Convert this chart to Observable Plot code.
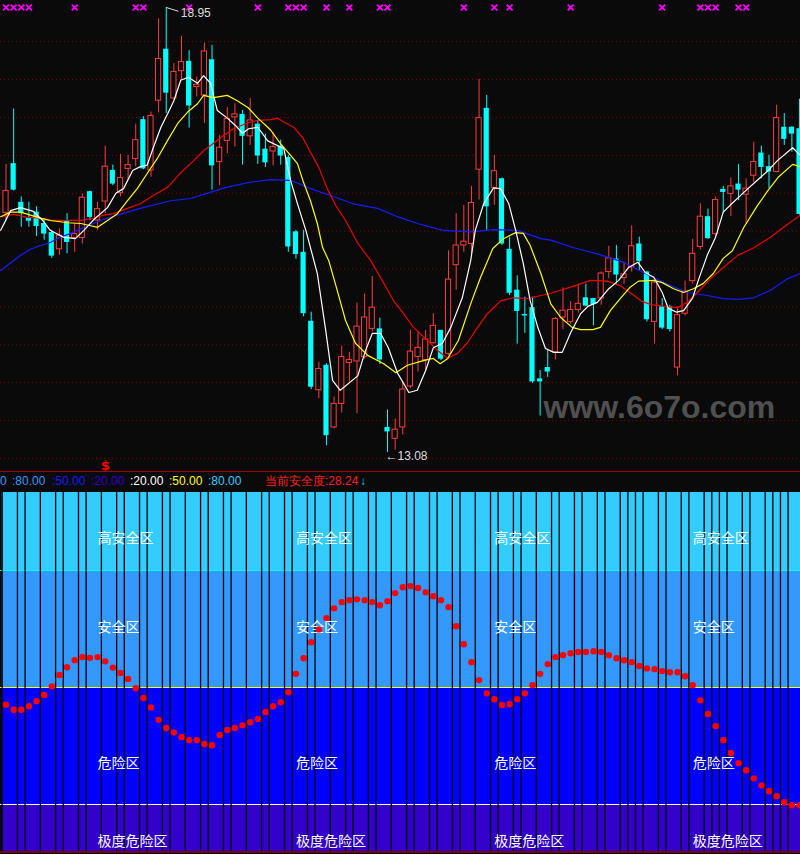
<!DOCTYPE html>
<html><head><meta charset="utf-8">
<script src="https://cdn.jsdelivr.net/npm/d3@7"></script>
<script src="https://cdn.jsdelivr.net/npm/@observablehq/plot@0.6"></script>
<style>
html,body{margin:0;padding:0;background:#0a0a0a;}
#wrap{width:800px;height:854px;position:relative;overflow:hidden;background:#0a0a0a;}
#info{position:relative;height:18px;border-top:1px solid #a00000;font:12px "Liberation Sans",Arial,sans-serif;line-height:14px;}
#info span{position:absolute;top:2px;white-space:nowrap;}
svg{display:block;}
</style></head><body>
<div id="wrap"><div id="topc"></div><div id="info"></div><div id="botc"></div><div style="height:2px;background:#7a0000"></div></div>
<script>
// ---- candle data (index 0..104) ----
const open  = [16.24,16.89,16.38,16.17,16.25,16.10,15.98,15.76,16.14,15.91,15.91,16.52,16.14,16.39,16.80,16.50,16.82,16.95,17.47,16.80,17.72,18.40,17.75,18.11,18.24,17.90,17.79,18.26,16.91,17.19,17.50,17.54,17.25,17.41,17.08,17.05,17.12,16.97,15.99,15.72,14.81,13.90,14.23,13.41,13.72,14.26,14.28,14.34,14.71,14.71,13.41,13.26,13.41,13.95,14.34,14.30,14.52,14.69,14.38,15.55,15.81,15.83,16.81,17.62,16.57,16.69,15.76,15.22,14.90,14.99,14.05,14.20,14.40,14.86,14.80,14.96,15.12,15.11,15.11,15.46,15.63,15.38,15.52,15.83,15.46,14.80,15.00,15.00,14.20,14.91,15.34,15.79,16.19,15.96,16.55,16.49,16.62,16.48,16.73,17.03,16.85,16.78,17.37,17.37,17.35];
const high  = [16.88,17.61,16.45,16.38,16.32,16.16,16.01,16.03,16.23,16.10,16.49,16.53,16.38,17.12,16.87,17.01,17.00,17.41,17.51,17.57,18.80,18.95,18.21,18.57,18.38,18.03,18.48,18.45,17.26,17.63,17.68,17.59,17.75,17.46,17.28,17.30,17.20,17.00,16.01,16.01,14.93,14.27,14.25,13.81,14.48,14.40,15.05,15.17,15.40,14.85,13.64,13.52,14.01,14.69,14.67,14.69,14.91,14.69,15.74,16.23,16.34,16.59,18.00,17.79,17.00,16.70,15.92,15.41,15.13,15.13,14.16,14.44,14.86,15.25,15.07,15.30,15.30,15.11,15.46,15.80,15.81,15.59,16.07,15.92,15.47,15.33,15.11,15.02,15.00,15.34,15.89,16.36,16.29,16.45,16.59,16.70,16.88,16.69,17.17,17.12,17.00,17.66,17.55,17.38,17.74];
const low   = [16.13,16.53,16.05,16.05,15.93,15.88,15.64,15.68,15.70,15.72,15.83,16.14,16.01,16.23,16.60,16.45,16.67,16.85,16.81,16.71,17.56,17.55,17.72,17.99,17.36,17.77,17.42,16.54,16.60,17.02,17.11,16.87,17.13,16.88,16.84,16.86,16.87,15.72,15.63,14.87,13.91,13.79,13.17,13.39,13.60,14.01,13.59,14.31,14.67,14.24,13.08,13.11,13.31,13.92,14.14,14.16,14.51,14.29,14.36,15.22,15.72,15.70,16.41,16.01,16.34,15.81,15.15,14.51,14.65,13.99,13.56,14.07,14.30,14.70,14.77,14.92,15.00,14.75,15.02,15.37,15.30,15.30,15.46,15.48,14.80,14.51,14.70,14.67,14.09,14.88,15.30,15.75,15.89,15.92,16.24,16.19,16.40,16.10,16.64,16.69,16.56,16.77,17.13,17.04,16.21];
const close = [16.53,16.54,16.23,16.13,16.06,15.96,15.67,15.94,15.85,15.96,16.44,16.18,16.29,16.85,16.62,16.70,16.87,17.20,16.82,17.52,18.27,17.82,18.10,18.23,17.65,17.93,18.37,16.86,17.10,17.48,17.54,17.25,17.46,16.99,16.90,17.11,16.99,15.79,15.69,14.91,13.94,14.18,13.30,13.72,14.34,14.30,14.74,14.86,14.99,14.30,13.35,13.38,13.91,14.41,14.46,14.57,14.75,14.31,15.36,15.81,15.86,16.37,17.49,16.32,16.79,15.83,15.18,14.94,14.88,14.01,14.01,14.14,14.84,14.95,14.96,15.04,15.01,15.03,15.44,15.64,15.42,15.43,15.80,15.60,14.83,15.32,14.72,14.70,14.89,15.20,15.70,16.19,15.90,16.41,16.51,16.59,16.54,16.56,16.91,16.84,16.78,17.49,17.21,17.28,16.22];

// ---- moving averages: [candle index, price] ----
const ma5 = [[-0.7,16.01],[0.6,16.27],[1.9,16.31],[3.6,16.26],[4.8,16.14],[5.8,16.01],[7.5,15.92],[9.1,15.90],[10.2,16.01],[11.7,16.17],[13.3,16.31],[14.4,16.50],[15.4,16.56],[16.6,16.80],[17.6,16.85],[18.5,16.87],[19.3,17.10],[20.3,17.37],[21.2,17.55],[22.0,17.72],[22.9,17.99],[23.9,18.03],[25.1,17.95],[25.9,18.05],[26.8,17.95],[27.7,17.59],[29.0,17.49],[30.1,17.39],[31.0,17.29],[31.8,17.35],[33.0,17.37],[34.3,17.19],[36.4,17.09],[37.3,16.67],[38.2,16.36],[39.3,16.01],[40.8,15.44],[41.9,14.69],[42.8,14.03],[43.8,13.90],[46.1,14.09],[47.1,14.42],[48.0,14.65],[49.1,14.65],[50.1,14.46],[51.3,14.13],[52.8,13.87],[53.9,13.90],[55.0,14.16],[56.0,14.46],[57.2,14.52],[58.3,14.73],[59.8,15.12],[60.9,15.61],[61.5,16.01],[62.6,16.36],[63.9,16.57],[64.8,16.56],[65.9,16.36],[66.8,16.01],[67.8,15.57],[68.7,15.08],[69.7,14.73],[70.7,14.45],[71.8,14.40],[72.9,14.40],[74.0,14.66],[75.3,14.91],[76.3,15.01],[77.5,15.06],[79.0,15.24],[80.3,15.35],[81.6,15.52],[82.8,15.59],[83.8,15.45],[84.9,15.39],[86.0,15.19],[86.8,14.98],[87.9,14.93],[88.8,14.95],[90.0,15.12],[90.8,15.37],[91.9,15.68],[93.0,15.92],[94.0,16.25],[94.9,16.34],[96.7,16.51],[98.9,16.71],[99.9,16.80],[101.1,16.93],[103.1,17.10],[104.1,17.00]];
const ma10 = [[-0.7,16.19],[0.6,16.25],[1.9,16.25],[3.2,16.21],[4.5,16.17],[5.8,16.14],[8.1,16.11],[9.8,16.10],[11.1,16.07],[12.0,16.05],[13.3,16.14],[14.6,16.23],[15.9,16.40],[17.2,16.56],[18.5,16.76],[19.9,16.97],[21.2,17.20],[22.5,17.42],[23.8,17.57],[25.1,17.68],[25.9,17.79],[27.2,17.76],[29.0,17.79],[30.3,17.72],[31.7,17.63],[33.0,17.49],[34.3,17.37],[34.7,17.33],[36.0,17.15],[37.3,17.00],[38.2,16.89],[39.0,16.64],[39.9,16.40],[40.8,16.10],[41.5,15.78],[42.3,15.61],[43.4,15.22],[44.5,14.82],[45.8,14.52],[47.4,14.36],[49.5,14.25],[51.1,14.13],[52.6,14.23],[54.7,14.29],[56.0,14.32],[56.9,14.25],[57.9,14.32],[59.3,14.56],[60.9,15.04],[62.2,15.39],[63.8,15.77],[65.2,15.90],[66.8,15.98],[67.8,15.97],[68.7,15.81],[70.1,15.44],[71.4,15.04],[72.7,14.86],[74.2,14.73],[75.3,14.70],[76.9,14.70],[77.9,14.73],[79.2,14.95],[80.5,15.11],[81.8,15.26],[82.9,15.34],[84.9,15.35],[86.0,15.32],[87.5,15.24],[88.8,15.19],[90.1,15.24],[91.4,15.31],[92.7,15.44],[94.0,15.64],[95.2,15.74],[96.7,16.05],[98.5,16.34],[99.9,16.54],[101.2,16.71],[103.1,16.88],[104.1,16.85]];
const ma20 = [[-0.7,16.19],[1.0,16.22],[2.8,16.18],[4.5,16.17],[6.2,16.14],[8.1,16.14],[9.8,16.14],[11.5,16.17],[12.8,16.21],[14.1,16.23],[15.9,16.30],[17.6,16.36],[19.3,16.47],[21.2,16.58],[22.9,16.77],[24.6,16.93],[25.9,17.06],[27.2,17.16],[28.5,17.26],[29.8,17.35],[31.7,17.43],[33.0,17.46],[34.7,17.47],[35.6,17.49],[36.6,17.43],[37.7,17.37],[38.9,17.23],[39.9,17.04],[41.0,16.84],[42.1,16.56],[43.2,16.34],[44.5,16.14],[46.1,15.84],[47.8,15.61],[49.3,15.35],[50.8,15.08],[52.1,14.91],[53.4,14.73],[55.2,14.56],[56.6,14.42],[57.9,14.32],[59.2,14.39],[60.5,14.53],[61.8,14.73],[63.1,14.91],[64.8,15.08],[66.5,15.12],[68.3,15.11],[70.1,15.15],[71.4,15.18],[74.0,15.26],[76.6,15.35],[78.8,15.34],[80.5,15.28],[81.8,15.19],[83.2,15.08],[84.5,15.03],[86.2,15.01],[88.0,14.99],[89.3,15.06],[90.6,15.19],[92.3,15.37],[94.0,15.52],[95.9,15.68],[98.0,15.78],[100.2,15.92],[101.9,16.05],[104.1,16.21]];
const ma60 = [[-0.7,15.48],[1.9,15.68],[3.2,15.76],[4.5,15.81],[5.8,15.85],[7.1,15.92],[8.5,15.97],[10.2,16.05],[12.4,16.14],[14.6,16.21],[17.6,16.30],[21.6,16.40],[24.2,16.43],[26.4,16.50],[29.0,16.58],[31.7,16.64],[34.7,16.68],[37.3,16.67],[39.9,16.56],[42.5,16.47],[45.5,16.36],[48.7,16.30],[51.3,16.19],[53.9,16.10],[57.3,16.01],[60.9,15.99],[63.9,16.02],[67.0,16.01],[70.1,15.90],[71.4,15.88],[74.4,15.78],[77.5,15.70],[80.9,15.59],[83.6,15.45],[85.4,15.36],[87.1,15.28],[89.3,15.19],[91.9,15.15],[94.0,15.11],[95.9,15.10],[98.0,15.12],[100.2,15.22],[102.4,15.37],[104.1,15.44]];

// magenta signal marks (candle indices)
const marks = [0,1,2,3,9,17,18,24,33,37,38,39,42,45,49,50,60,64,66,74,86,91,92,93,96,97];
const dollarAt = [13];
const gridPrices = [18.5,18.0,17.5,17.0,16.5,16.0,15.5,15.0,14.5,14.0,13.5,13.0];

// ---- safety indicator (lower panel) ----
const safety = [45.6,44.3,44.3,45.2,46.5,48.1,50.3,53.2,55.2,57.0,57.8,57.6,57.8,56.7,55.1,53.7,52.2,49.8,47.3,44.9,41.7,39.6,38.5,37.3,36.5,36.5,35.5,35.2,37.8,39.1,39.6,40.3,41.1,41.9,43.7,45.2,46.2,48.8,53.5,57.5,61.6,64.9,67.8,70.3,71.9,72.4,72.6,72.4,71.9,71.1,72.1,74.2,75.7,76.0,75.5,74.4,73.4,72.4,70.6,65.7,61.1,56.5,51.9,48.5,47.0,45.5,45.7,47.0,48.5,50.6,53.5,56.0,57.8,58.3,58.8,59.1,59.1,59.3,59.1,58.3,57.5,57.0,56.5,55.5,54.9,54.7,54.2,53.9,53.9,52.9,50.6,46.7,43.2,40.1,36.5,33.2,30.6,28.8,26.7,24.9,23.4,22.1,20.6,19.8,19.8];
const zoneNames = ["高安全区","安全区","危险区","极度危险区"];
const zoneLo = [80,50,20,7.95];
const zoneHi = [100,80,50,20];
const zoneLevels = [80,50,20];
const labelIdx = [12,38,64,90];
const dividers = [0,2,3,5,7,8,10,11,13,15,16,18,19,21,22,24,26,27,29,30,32,34,35,37,38,40,41,43,45,46,48,49,51,53,54,56,57,59,60,62,64,65,67,68,70,72,73,75,76,78,79,81,82,83,84,86,87,89,90,92,93,94,95,97,98,100,101,102,103];
const infoLabels = ["0",":80.00",":50.00",":20.00",":20.00",":50.00",":80.00","当前安全度:28.24","↓"];

// ---- styling ----
const BG = "#0a0a0a", RED = "#ff3c3c", CYAN = "#00ffff";
const zoneColors = ["#33ccff","#3399ff","#0000ff","#3300cc"];
const zoneLabelY = [88.2,65.4,30.5,10.4];
const levelColors = ["#00ffff","#ffff00","#ffffff"];
const infoColors = ["#3399ff","#3399ff","#1a1aff","#3300cc","#ffffff","#ffff00","#33ccff","#ff2020","#00ccff"];
const infoX = [0,12,52,91,130,169,208,265,360];
const N = open.length;
const xScale = {domain: [-0.5, N - 0.5], range: [1.7, 1.7 + 7.63 * N], axis: null};

const candles = d3.range(N).map(i => ({i, o: open[i], h: high[i], l: low[i], c: close[i], up: close[i] >= open[i]}));
const ups = candles.filter(d => d.up), downs = candles.filter(d => !d.up);
const hiC = candles.reduce((a, b) => b.h > a.h ? b : a);
const loC = candles.reduce((a, b) => b.l < a.l ? b : a);
const BW = 0.34;

const topChart = Plot.plot({
  width: 800, height: 471, margin: 0,
  style: {background: BG, overflow: "hidden"},
  x: xScale,
  y: {domain: [19.042 - 471 / 75.8, 19.042], axis: null},
  marks: [
    Plot.ruleY(gridPrices, {stroke: "#8b0000", strokeDasharray: "1,3"}),
    Plot.text(["www.6o7o.com"], {frameAnchor: "top-left", dx: 543, dy: 407, textAnchor: "start", lineAnchor: "middle", fontSize: 32, fontWeight: "bold", fill: "#505050", fontFamily: "Liberation Sans"}),
    Plot.ruleX(ups, {x: "i", y1: "l", y2: "h", stroke: RED}),
    Plot.ruleX(downs, {x: "i", y1: "l", y2: "h", stroke: CYAN}),
    Plot.rect(ups, {x1: d => d.i - BW, x2: d => d.i + BW, y1: "o", y2: "c", fill: BG, stroke: RED}),
    Plot.rect(downs, {x1: d => d.i - BW, x2: d => d.i + BW, y1: "o", y2: "c", fill: CYAN}),
    Plot.line(ma60, {x: d => d[0], y: d => d[1], stroke: "#1a1aff", strokeWidth: 1.2}),
    Plot.line(ma20, {x: d => d[0], y: d => d[1], stroke: "#ee0000", strokeWidth: 1.2}),
    Plot.line(ma10, {x: d => d[0], y: d => d[1], stroke: "#ffff00", strokeWidth: 1.2}),
    Plot.line(ma5, {x: d => d[0], y: d => d[1], stroke: "#ffffff", strokeWidth: 1.2}),
    Plot.dot(marks, {x: d => d, frameAnchor: "top", dy: 7, symbol: "times", r: 2.8, stroke: "#ff00ff", strokeWidth: 1.8}),
    Plot.text(dollarAt, {x: d => d, frameAnchor: "bottom", dy: -2, lineAnchor: "bottom", text: () => "$", fill: "#ff0000", fontSize: 13, fontWeight: "bold", fontFamily: "DejaVu Sans"}),
    Plot.link([hiC], {x1: "i", y1: "h", x2: d => d.i + 1.6, y2: d => d.h - 0.05, stroke: "#dddddd"}),
    Plot.text([hiC], {x: "i", y: "h", dx: 14.5, dy: 6, text: d => d.h.toFixed(2), textAnchor: "start", fill: "#dddddd", fontSize: 12, fontFamily: "Liberation Sans"}),
    Plot.text([loC], {x: "i", y: "l", dx: -2, dy: 3.5, text: d => "←" + d.l.toFixed(2), textAnchor: "start", fill: "#dddddd", fontSize: 12, fontFamily: "Liberation Sans"})
  ]
});
document.getElementById("topc").appendChild(topChart);

const info = document.getElementById("info");
infoLabels.forEach((t, k) => {
  const s = document.createElement("span");
  s.textContent = t; s.style.left = infoX[k] + "px"; s.style.color = infoColors[k];
  info.appendChild(s);
});

const sdata = safety.map((v, i) => ({i, v}));
const botChart = Plot.plot({
  width: 800, height: 361, marginTop: 2, marginBottom: 0, marginLeft: 0, marginRight: 0,
  style: {background: BG, overflow: "hidden"},
  x: xScale,
  y: {domain: [7.95, 100], axis: null},
  marks: [
    ...zoneNames.map((z, k) => Plot.rect([z], {x1: -0.5, x2: N - 0.5, y1: zoneLo[k], y2: zoneHi[k], fill: zoneColors[k]})),
    ...zoneLevels.map((lv, k) => Plot.ruleY([lv], {stroke: levelColors[k], strokeWidth: 1.2})),
    Plot.ruleX(dividers, {x: d => d - 0.5, stroke: "#000000", strokeWidth: 1.3}),
    ...zoneNames.map((z, k) => Plot.text(labelIdx, {x: d => d, y: zoneLabelY[k], text: () => z, textAnchor: "start", fill: "#ffffff", fontSize: 14, fontFamily: "Noto Sans CJK SC"})),
    Plot.dot(sdata, {x: "i", y: "v", r: 3.2, fill: "#ff0000"})
  ]
});
document.getElementById("botc").appendChild(botChart);
</script>
</body></html>
